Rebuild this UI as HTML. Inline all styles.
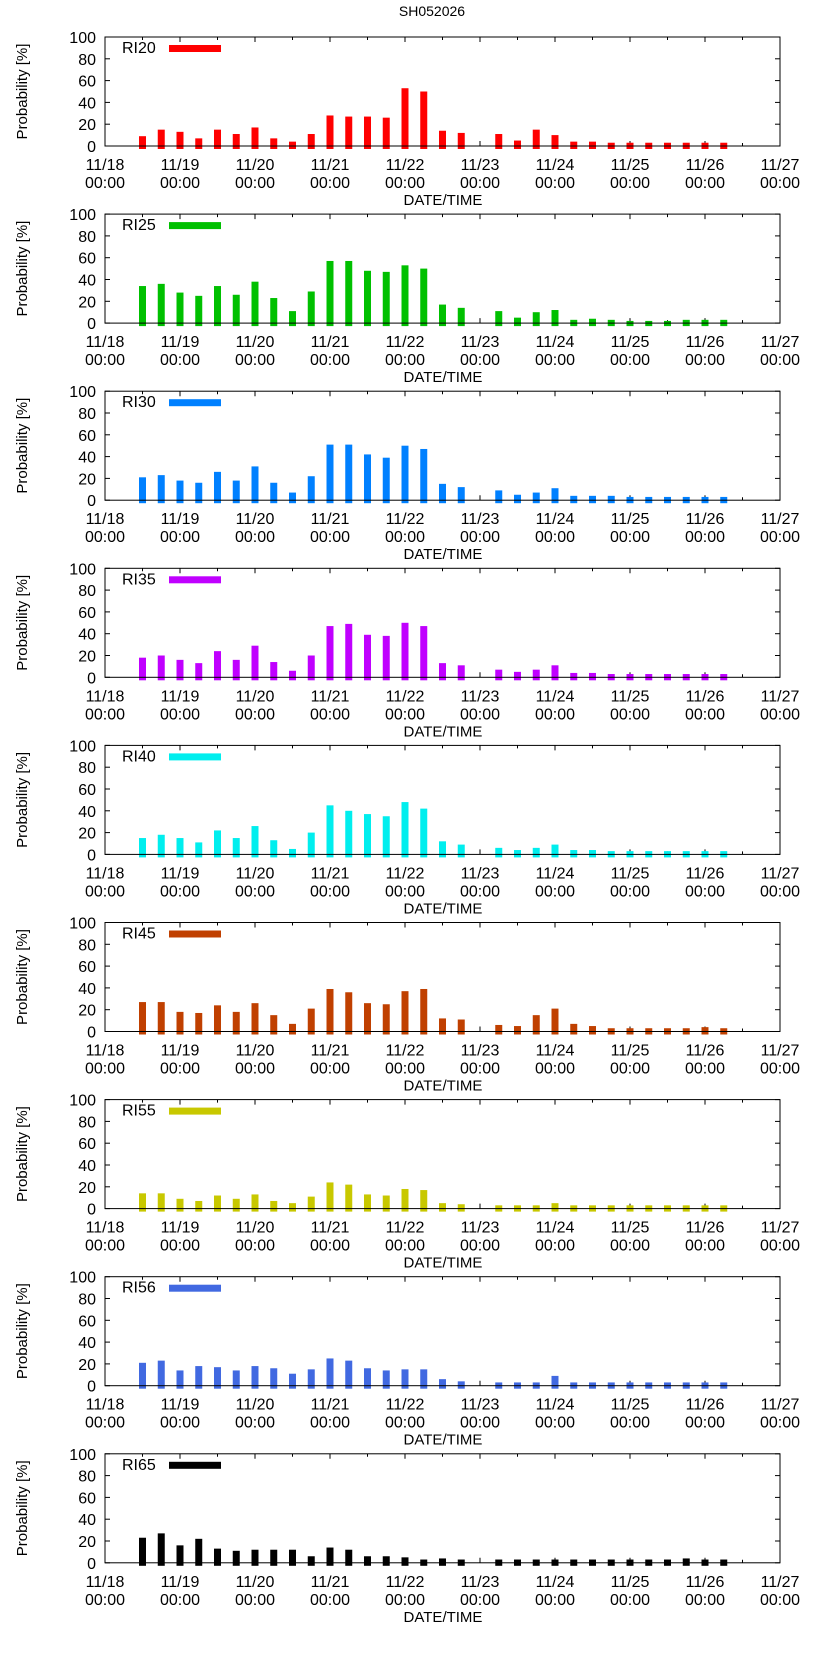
<!DOCTYPE html>
<html><head><meta charset="utf-8"><style>
body{margin:0;background:#fff}
svg{display:block;font-family:"Liberation Sans",sans-serif}
</style></head><body>
<svg id="chart" width="822" height="1653" viewBox="0 0 822 1653">
<text x="432" y="16" font-size="14" text-anchor="middle">SH052026</text>
</svg>
<script>
const panelNames = ["RI20","RI25","RI30","RI35","RI40","RI45","RI55","RI56","RI65"];
const panelColors = ["#ff0000","#00c000","#0080ff","#c000ff","#00eeee","#c04000","#c8c800","#4169e1","#000000"];
const dayLabels = ["11/18","11/19","11/20","11/21","11/22","11/23","11/24","11/25","11/26","11/27"];
const yTicks = [0,20,40,60,80,100];
const startDay = 0.5; const stepDay = 0.25;
const ri20 = [9,15,13,7,15,11,17,7,4,11,28,27,27,26,53,50,14,12,null,11,5,15,10,4,4,3,3,3,3,3,3,3];
const ri25 = [34,36,28,25,34,26,38,23,11,29,57,57,48,47,53,50,17,14,null,11,5,10,12,3,4,3,2,2,2,3,3,3];
const ri30 = [21,23,18,16,26,18,31,16,7,22,51,51,42,39,50,47,15,12,null,9,5,7,11,4,4,4,3,3,3,3,3,3];
const ri35 = [18,20,16,13,24,16,29,14,6,20,47,49,39,38,50,47,13,11,null,7,5,7,11,4,4,3,3,3,3,3,3,3];
const ri40 = [15,18,15,11,22,15,26,13,5,20,45,40,37,35,48,42,12,9,null,6,4,6,9,4,4,3,3,3,3,3,3,3];
const ri45 = [27,27,18,17,24,18,26,15,7,21,39,36,26,25,37,39,12,11,null,6,5,15,21,7,5,3,3,3,3,3,4,3];
const ri55 = [14,14,9,7,12,9,13,7,5,11,24,22,13,12,18,17,5,4,null,3,3,3,5,3,3,3,3,3,3,3,3,3];
const ri56 = [21,23,14,18,17,14,18,16,11,15,25,23,16,14,15,15,6,4,null,3,3,3,9,3,3,3,3,3,3,3,3,3];
const ri65 = [23,27,16,22,13,11,12,12,12,6,14,12,6,6,5,3,4,3,null,3,3,3,3,3,3,3,3,3,3,4,3,3];
const allSeries = [ri20,ri25,ri30,ri35,ri40,ri45,ri55,ri56,ri65];

const NS="http://www.w3.org/2000/svg";
const svg=document.getElementById('chart');
const L=105,R=780,H=109,PANEL=177.1,TOP0=37;
function X(d){return L+(R-L)*d/9;}
function mk(tag,attrs,parent){const e=document.createElementNS(NS,tag);for(const k in attrs)e.setAttribute(k,attrs[k]);(parent||svg).appendChild(e);return e;}

allSeries.forEach((vals,p)=>{
  const top=TOP0+PANEL*p, bot=top+H;
  const Y=v=>bot-H*v/100;
  const g=mk('g',{});
  
  
  for(let h=0;h<=18;h++){
    const x=X(h/2), len=h%2?3:5;
    mk('line',{x1:x,x2:x,y1:bot,y2:bot-len,stroke:'#000'},g);
    mk('line',{x1:x,x2:x,y1:top,y2:top+len,stroke:'#000'},g);
  }
  vals.forEach((v,k)=>{
    if(v===null)return;
    const cx=X(startDay+stepDay*k);
    const r=mk('rect',{x:cx-3.5,y:Y(v),width:7,height:Y(0)-Y(v)+3,fill:panelColors[p]},g);
    
    
  });
  const fr=mk('rect',{x:L,y:top,width:R-L,height:H,fill:'none',stroke:'#000','stroke-width':1},g);
  
  
  yTicks.forEach(t=>{
    const y=Y(t);
    mk('line',{x1:L,x2:L+5,y1:y,y2:y,stroke:'#000'},g);
    mk('line',{x1:R,x2:R-5,y1:y,y2:y,stroke:'#000'},g);
    const tx=mk('text',{x:L-9,y:y+6,'font-size':16,'text-anchor':'end'},g);
    tx.textContent=t;
    
    
  });
  dayLabels.forEach((d,i)=>{
    const x=X(i);
    const t1=mk('text',{x:x,y:bot+24,'font-size':16,'text-anchor':'middle'},g);
    t1.textContent=d;
    
    
    const t2=mk('text',{x:x,y:bot+42,'font-size':16,'text-anchor':'middle'},g);
    t2.textContent='00:00';
    
    
  });
  const xt=mk('text',{x:443,y:bot+59,'font-size':15,'text-anchor':'middle'},g);
  xt.textContent='DATE/TIME';
  
  
  const yt=mk('text',{x:0,y:0,'font-size':15,'text-anchor':'middle',transform:`translate(27,${top+H/2}) rotate(-90)`},g);
  yt.textContent='Probability [%]';
  
  
  const lt=mk('text',{x:122,y:top+16,'font-size':16},g);
  lt.textContent=panelNames[p];
  
  
  const lb=mk('rect',{x:169,y:top+8,width:52,height:7,fill:panelColors[p]},g);
  
  
});
</script>
</body></html>
